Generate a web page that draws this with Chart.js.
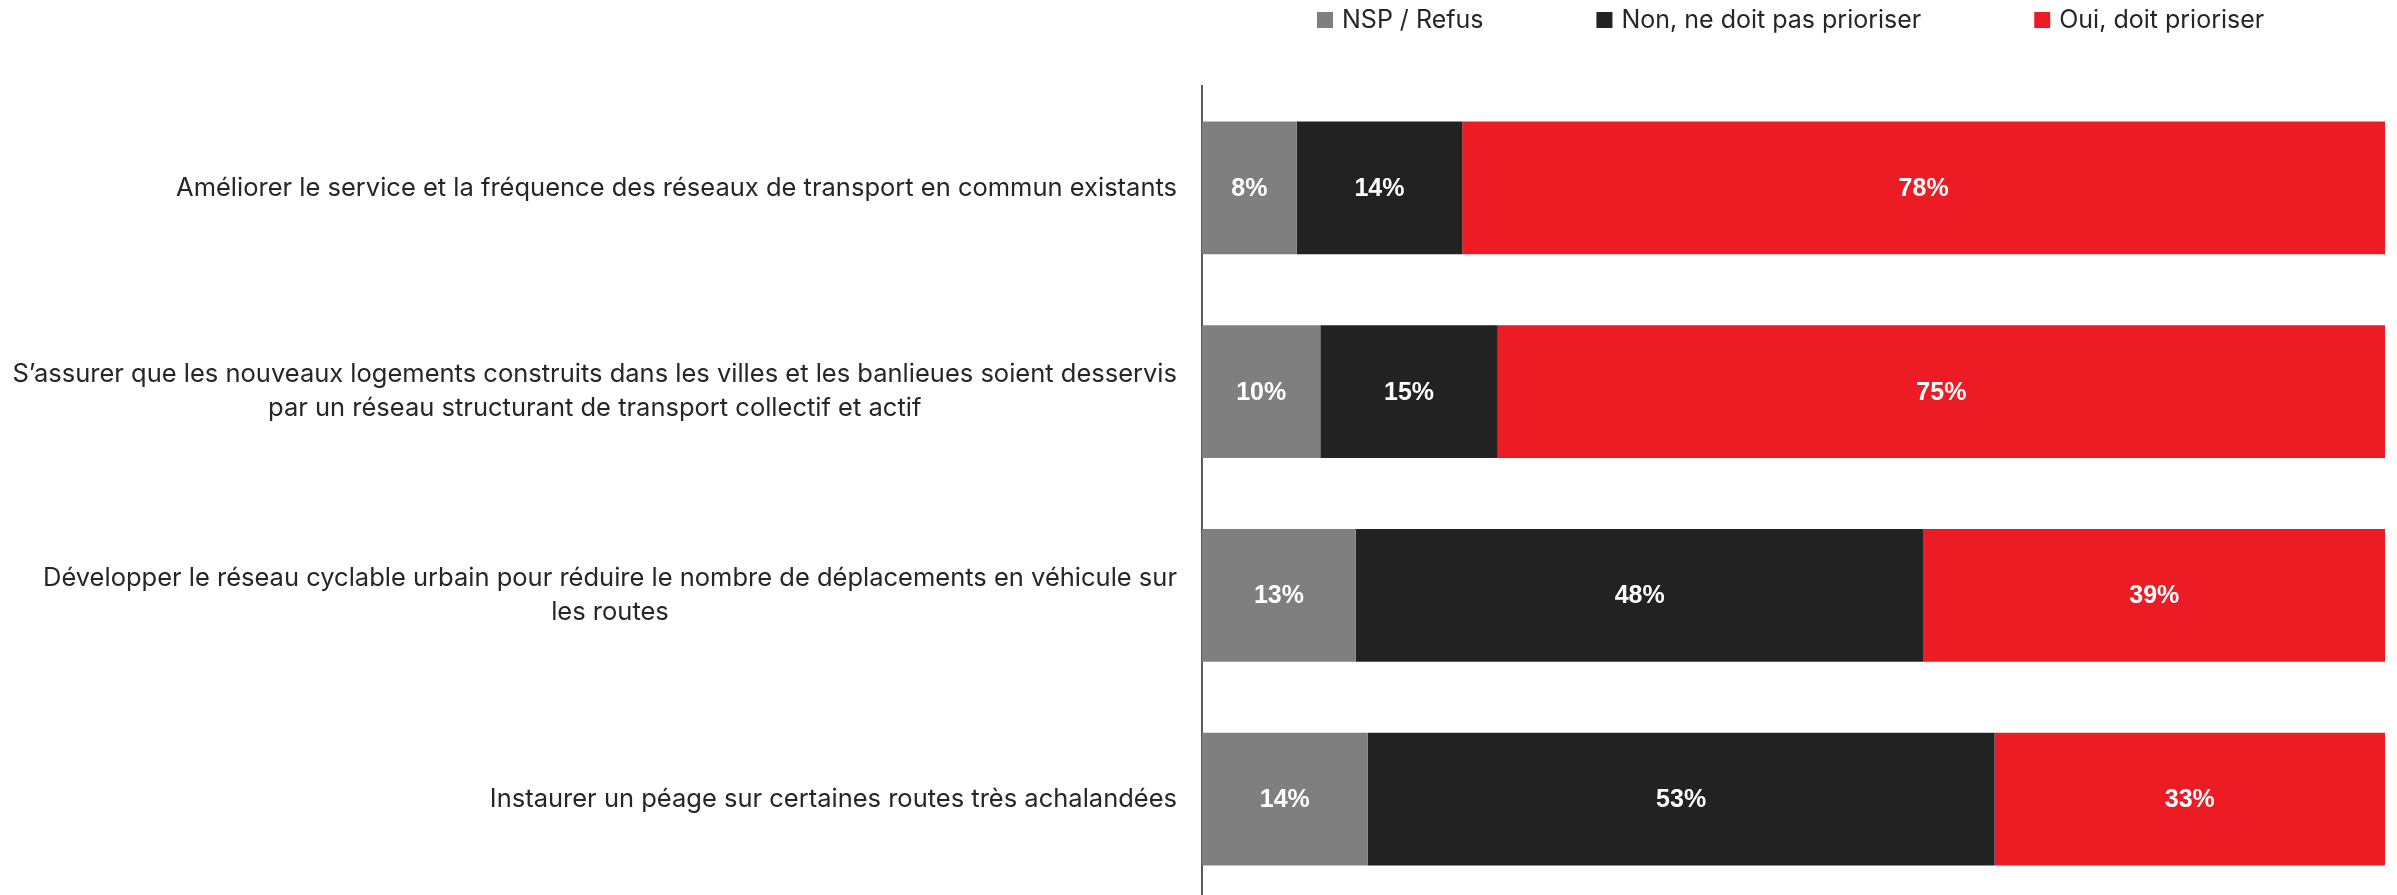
<!DOCTYPE html>
<html>
<head>
<meta charset="utf-8">
<script src="https://cdn.jsdelivr.net/npm/chart.js@4.4.1/dist/chart.umd.min.js"></script>
<style>
  html, body { margin: 0; padding: 0; background: #ffffff; overflow: hidden; }
  #wrap { width: 2397px; height: 901px; }
</style>
</head>
<body>
<div id="wrap"><canvas id="chart" width="2397" height="901"></canvas></div>
<script>
const categories = [
  ['Améliorer le service et la fréquence des réseaux de transport en commun existants'],
  ['S’assurer que les nouveaux logements construits dans les villes et les banlieues soient desservis',
   'par un réseau structurant de transport collectif et actif'],
  ['Développer le réseau cyclable urbain pour réduire le nombre de déplacements en véhicule sur',
   'les routes'],
  ['Instaurer un péage sur certaines routes très achalandées'],
];
const seriesNames = ['NSP / Refus', 'Non, ne doit pas prioriser', 'Oui, doit prioriser'];
const nspValues = [8, 10, 13, 14];
const nonValues = [14, 15, 48, 53];
const ouiValues = [78, 75, 39, 33];
const seriesColors = ['#7f7f7f', '#222222', '#ed1c24'];

const textFont = 'Inter, "Noto Sans", sans-serif';

// white % labels in the middle of every segment
const barValueLabels = {
  id: 'barValueLabels',
  afterDatasetsDraw(chart) {
    const ctx = chart.ctx;
    ctx.save();
    ctx.font = 'bold 25px "Liberation Sans", Arial, sans-serif';
    ctx.fillStyle = '#ffffff';
    ctx.textAlign = 'center';
    ctx.textBaseline = 'middle';
    chart.data.datasets.forEach((ds, di) => {
      const meta = chart.getDatasetMeta(di);
      meta.data.forEach((bar, i) => {
        const p = bar.getProps(['x', 'y', 'base'], true);
        ctx.fillText(ds.data[i] + '%', (p.x + p.base) / 2, p.y + 1);
      });
    });
    ctx.restore();
  },
};

// category labels: each block sits against the axis, its lines centred on each other
const blockLabels = {
  id: 'blockLabels',
  afterDraw(chart) {
    const scale = chart.scales.y;
    const opts = chart.options.plugins.blockLabels || {};
    const ctx = chart.ctx;
    const lineH = opts.lineHeight;
    ctx.save();
    ctx.font = opts.size + 'px ' + textFont;
    ctx.fillStyle = '#262626';
    ctx.textAlign = 'center';
    ctx.textBaseline = 'middle';
    chart.data.labels.forEach((lines, i) => {
      const y = scale.getPixelForTick(i);
      const widest = Math.max(...lines.map((l) => ctx.measureText(l).width));
      const cx = scale.right - opts.gap - widest / 2;
      const y0 = y - ((lines.length - 1) * lineH) / 2;
      lines.forEach((line, k) => ctx.fillText(line, cx, y0 + k * lineH));
    });
    ctx.restore();
  },
};

// legend row at the top, items separated by a fixed gap
const topLegend = {
  id: 'topLegend',
  afterDraw(chart) {
    const opts = chart.options.plugins.topLegend || {};
    const ctx = chart.ctx;
    let x = opts.startX;
    const y = opts.y;
    ctx.save();
    ctx.font = '25px ' + textFont;
    ctx.textBaseline = 'middle';
    ctx.textAlign = 'left';
    chart.data.datasets.forEach((ds) => {
      ctx.fillStyle = ds.backgroundColor;
      ctx.fillRect(x, y - 8, 16, 16);
      ctx.fillStyle = '#262626';
      ctx.fillText(ds.label, x + 25, y);
      x += 25 + ctx.measureText(ds.label).width + opts.gap;
    });
    ctx.restore();
  },
};

const values = [nspValues, nonValues, ouiValues];

new Chart(document.getElementById('chart'), {
  type: 'bar',
  data: {
    labels: categories,
    datasets: seriesNames.map((name, i) => ({
      label: name,
      data: values[i],
      backgroundColor: seriesColors[i],
      borderWidth: 0,
      barPercentage: 0.652,
      categoryPercentage: 1,
    })),
  },
  options: {
    indexAxis: 'y',
    responsive: false,
    animation: false,
    devicePixelRatio: 1,
    layout: { padding: { top: 86, right: 12, bottom: 0, left: 0 } },
    plugins: {
      legend: { display: false },
      tooltip: { enabled: false },
      topLegend: { startX: 1317, y: 20, gap: 113 },
      blockLabels: { size: 25.5, lineHeight: 34, gap: 25 },
    },
    scales: {
      x: {
        stacked: true,
        min: 0,
        max: 100,
        display: false,
      },
      y: {
        stacked: true,
        afterFit(scale) {
          scale.width = 1202;
          scale.paddingTop = 0;
          scale.paddingBottom = 0;
        },
        border: { display: true, color: '#595959', width: 2 },
        grid: { display: true, drawOnChartArea: false, drawTicks: false },
        ticks: { display: false },
      },
    },
  },
  plugins: [barValueLabels, blockLabels, topLegend],
});
</script>
</body>
</html>
